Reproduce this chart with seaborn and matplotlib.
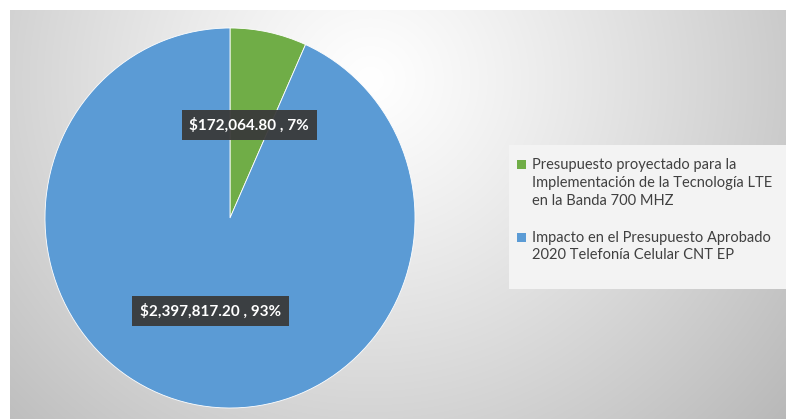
import numpy as np
import matplotlib
matplotlib.use("Agg")
import matplotlib.pyplot as plt
from matplotlib.patches import Patch, Rectangle
import seaborn as sns

# ---- data ----
categories = [
    "Presupuesto proyectado para la\nImplementación de la Tecnología LTE\nen la Banda 700 MHZ",
    "Impacto en el Presupuesto Aprobado\n2020 Telefonía Celular CNT EP",
]
values = [172064.80, 2397817.20]
colors = ["#70ad47", "#5b9bd5"]

sns.set_theme(style="white")
plt.rcParams["font.family"] = ["Lato", "DejaVu Sans"]

W, H = 786, 419
fig = plt.figure(figsize=(W / 100, H / 100), dpi=100, facecolor="white")

# ---- background radial gradient (chart area) ----
bx0, by0 = 10, 10
bg = fig.add_axes([bx0 / W, 0, (W - bx0) / W, (H - by0) / H])
yy, xx = np.mgrid[by0:H, bx0:W]
d = np.hypot(xx - 370, (yy - 80) * 1.05)
v = 1.0 - 0.21 * np.clip(d / 430, 0, 1.3) ** 1.15
bg.imshow(np.dstack([v, v, v]), aspect="auto", interpolation="bilinear")
bg.set_axis_off()

# ---- pie ----
cx, cy, rx, ry = 230, 218, 185, 190
ax = fig.add_axes([(cx - rx) / W, (H - cy - ry) / H, 2 * rx / W, 2 * ry / H])
total = sum(values)
slice_labels = [f"${v:,.2f} , {round(v / total * 100)}%" for v in values]

wedges, texts = ax.pie(
    values,
    colors=colors,
    startangle=90,
    counterclock=False,
    labels=slice_labels,
    labeldistance=0.5,
    wedgeprops=dict(edgecolor="white", linewidth=0.6),
)
ax.set_aspect("auto")
ax.set_xlim(-1, 1)
ax.set_ylim(-1, 1)
ax.set_axis_off()
for t in texts:
    t.set_ha("center")
    t.set_va("center")
    t.set_color("white")
    t.set_fontweight("bold")
    t.set_fontsize(11)
    t.set_bbox(dict(boxstyle="square,pad=0.5", facecolor="#3a3a3a", edgecolor="none", alpha=0.95))

# ---- legend ----
lx0, ly0, lx1, ly1 = 509, 145, 786, 289
fig.patches.append(Rectangle((lx0 / W, 1 - ly1 / H), (lx1 - lx0) / W, (ly1 - ly0) / H,
                             transform=fig.transFigure, facecolor="#f3f3f3",
                             edgecolor="none", zorder=0.5))
handles = [Patch(facecolor=c, edgecolor="none") for c in colors]
leg = fig.legend(handles, categories, loc="upper left",
                 bbox_to_anchor=(510 / W, 1 - 151 / H), frameon=False,
                 fontsize=10.5, handlelength=0.6, handleheight=0.6, handletextpad=0.4,
                 labelspacing=1.55, borderpad=0)
line_px = 19.0
for t, h, lab in zip(leg.get_texts(), leg.legend_handles, categories):
    t.set_color("#404040")
    t.set_linespacing(1.35)
    n = lab.count("\n") + 1
    h.set_y(h.get_y() + (n - 1) / 2 * line_px * 72 / 100)

fig.savefig("out.png", dpi=100, facecolor="white")
